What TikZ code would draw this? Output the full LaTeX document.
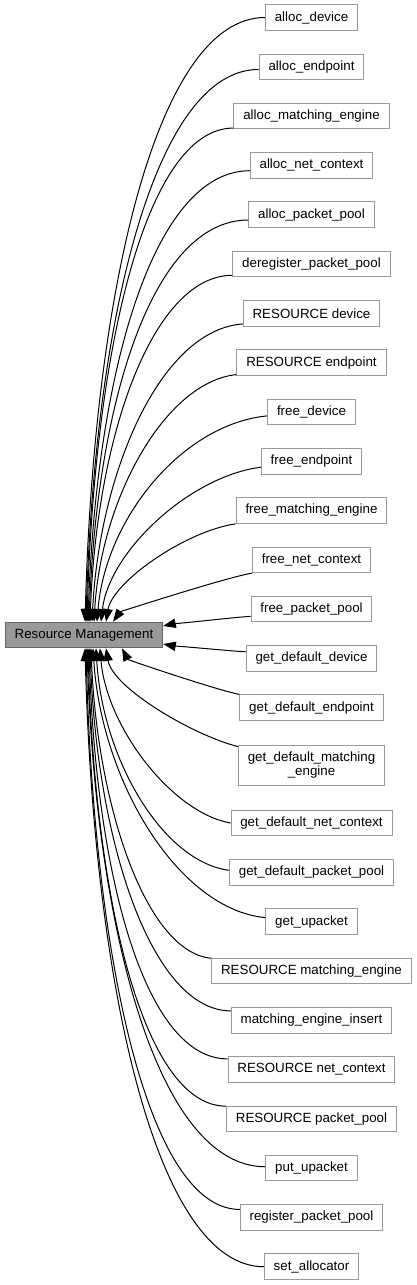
\documentclass[tikz,border=0pt]{standalone}
\usepackage{fontspec}
\setmainfont{Liberation Sans}
\usetikzlibrary{arrows.meta,calc}
\definecolor{boxgray}{HTML}{999999}
\definecolor{maingray}{HTML}{666666}
\definecolor{mainfill}{HTML}{999999}
\begin{document}
\begin{tikzpicture}[x=0.75pt,y=-0.75pt,
  box/.style={draw=boxgray, line width=0.75pt, fill=white, inner xsep=7pt, inner ysep=1pt,
    minimum height=19.2pt, font=\fontsize{10pt}{11pt}\selectfont},
  mainbox/.style={box, draw=maingray, fill=mainfill},
  edge/.style={draw=black, line width=0.75pt, -{Triangle[length=9.5pt,width=7pt]}}]
\useasboundingbox (0,0) rectangle (417,1285);
\node[mainbox] (rm) at (84,635) {Resource Management};
\node[box] (n1) at (311.5,17.5) {alloc\_device};
\node[box] (n2) at (311.5,66.8) {alloc\_endpoint};
\node[box] (n3) at (311.5,116.1) {alloc\_matching\_engine};
\node[box] (n4) at (311.5,165.4) {alloc\_net\_context};
\node[box] (n5) at (311.5,214.7) {alloc\_packet\_pool};
\node[box] (n6) at (311.5,264.0) {deregister\_packet\_pool};
\node[box] (n7) at (311.5,313.3) {RESOURCE device};
\node[box] (n8) at (311.5,362.6) {RESOURCE endpoint};
\node[box] (n9) at (311.5,411.9) {free\_device};
\node[box] (n10) at (311.5,461.2) {free\_endpoint};
\node[box] (n11) at (311.5,510.5) {free\_matching\_engine};
\node[box] (n12) at (311.5,559.8) {free\_net\_context};
\node[box] (n13) at (311.5,609.1) {free\_packet\_pool};
\node[box] (n14) at (311.5,658.4) {get\_default\_device};
\node[box] (n15) at (311.5,707.7) {get\_default\_endpoint};
\node[box, align=center, minimum height=30pt] (n16) at (311.5,765) {get\_default\_matching\\\_engine};
\node[box] (n17) at (311.5,823) {get\_default\_net\_context};
\node[box] (n18) at (311.5,872.3) {get\_default\_packet\_pool};
\node[box] (n19) at (311.5,921.6) {get\_upacket};
\node[box] (n20) at (311.5,970.9) {RESOURCE matching\_engine};
\node[box] (n21) at (311.5,1020.2) {matching\_engine\_insert};
\node[box] (n22) at (311.5,1069.5) {RESOURCE net\_context};
\node[box] (n23) at (311.5,1118.8) {RESOURCE packet\_pool};
\node[box] (n24) at (311.5,1168.1) {put\_upacket};
\node[box] (n25) at (311.5,1217.4) {register\_packet\_pool};
\node[box] (n26) at (311.5,1266.7) {set\_allocator};
\foreach \nm/\ff/\an/\sx/\sy/\ca/\cc/\cb in {
  n1/0/north/1/0/0.6/0/0.55,
  n2/0.2/north/2/0/0.6/0/0.55,
  n3/0.9/north/3/0/0.6/0/0.55,
  n4/0.4/north/4/0/0.6/0/0.55,
  n5/0.4/north/5/0/0.6/0/0.55,
  n6/0.85/north/6/0/0.55/0/0.55,
  n7/0.8/north/8/0/0.55/0.02/0.5,
  n8/0.9/north/10/0/0.5/0.03/0.5,
  n9/0.3/north/13/0/0.5/0.04/0.5,
  n10/0.45/north/17/0/0.45/0.06/0.45,
  n11/1/north/22/0/0.4/0.08/0.4,
  n12/1/north/29/0/0.2/0.1/0.2,
  n13/0.55/east/0/-9/0.1/0/0.1,
  n14/-0.5/east/0/9/0.1/0/0.1,
  n15/-1/south/38/0/0.2/0.1/0.25,
  n16/-0.9/south/22/0/0.35/0.12/0.4,
  n17/0/south/16/0/0.45/0.06/0.45,
  n18/-0.15/south/12/0/0.5/0.04/0.5,
  n19/-0.3/south/9/0/0.5/0.03/0.5,
  n20/-0.95/south/7/0/0.55/0.02/0.5,
  n21/-0.7/south/6/0/0.55/0/0.55,
  n22/-0.8/south/5/0/0.6/0/0.55,
  n23/-0.95/south/4/0/0.6/0/0.55,
  n24/-0.1/south/3/0/0.6/0/0.55,
  n25/-0.6/south/2/0/0.6/0/0.55,
  n26/0/south/1/0/0.6/0/0.55}
{
  \draw[edge] let \p1=($(\nm.west)!\ff!(\nm.south west)$), \p2=($(rm.\an)+(\sx,\sy)$) in
    (\p1) .. controls ({\x1-\ca*(\x1-\x2)},{\y1+\cc*(\y2-\y1)}) and ({\x2+0.05*(\x1-\x2)},{\y2+\cb*(\y1-\y2)}) .. (\p2);
}
\end{tikzpicture}
\end{document}
